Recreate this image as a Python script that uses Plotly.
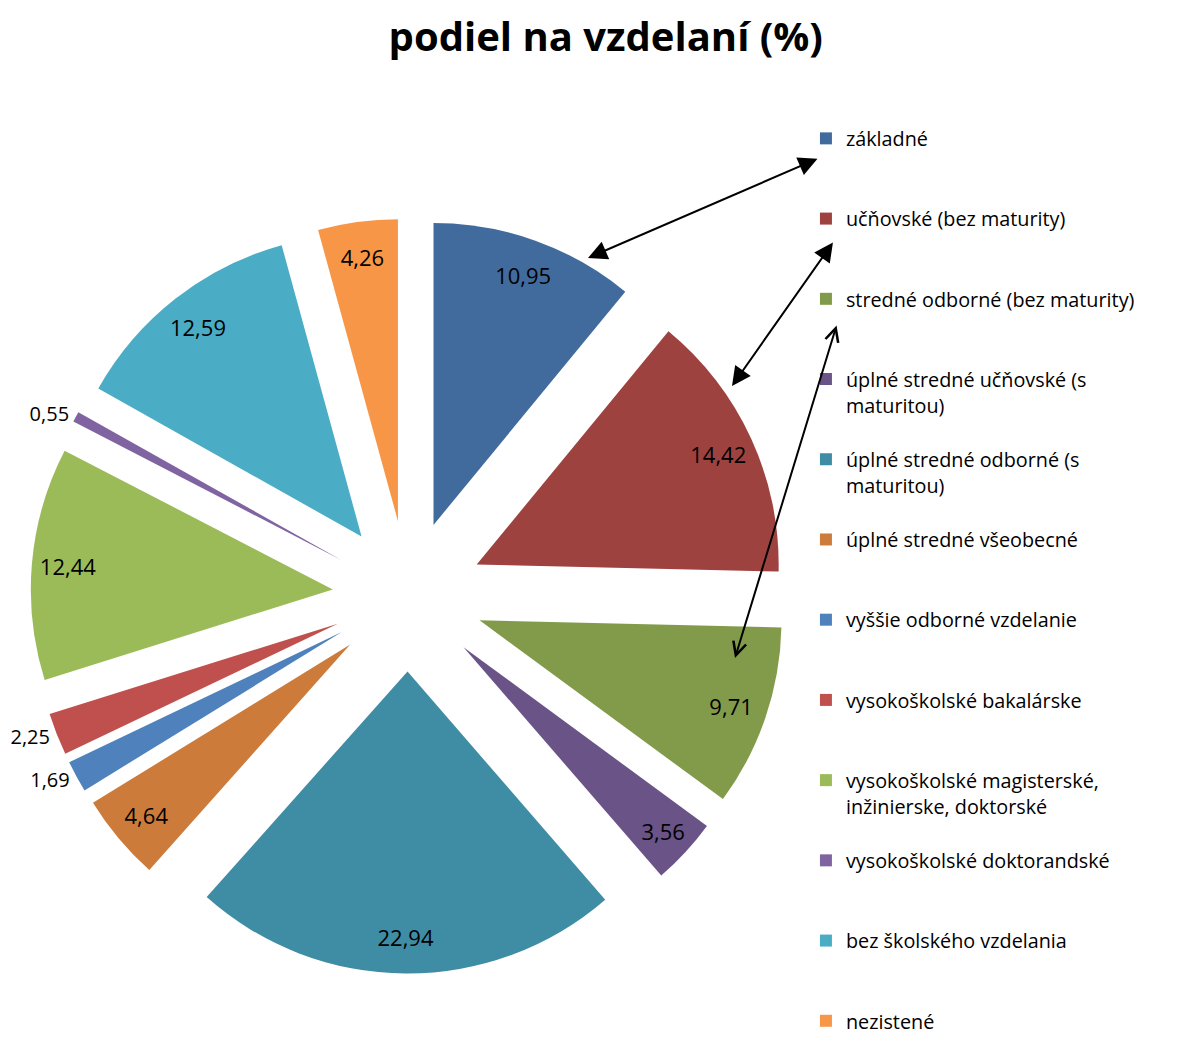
import plotly.graph_objects as go

categories = [
    "základné",
    "učňovské (bez maturity)",
    "stredné odborné (bez maturity)",
    "úplné stredné učňovské (s<br>maturitou)",
    "úplné stredné odborné (s<br>maturitou)",
    "úplné stredné všeobecné",
    "vyššie odborné vzdelanie",
    "vysokoškolské bakalárske",
    "vysokoškolské magisterské,<br>inžinierske, doktorské",
    "vysokoškolské doktorandské",
    "bez školského vzdelania",
    "nezistené",
]
values = [10.95, 14.42, 9.71, 3.56, 22.94, 4.64, 1.69, 2.25, 12.44, 0.55, 12.59, 4.26]
colors = ["#426B9D", "#9E4240", "#819B4A", "#6A5387", "#3E8DA4", "#CC7B3A",
          "#4F81BD", "#C0504D", "#9BBB59", "#8064A2", "#4BACC6", "#F79646"]
text_pos = ["inside", "inside", "inside", "inside", "inside", "inside",
            "outside", "outside", "inside", "outside", "inside", "inside"]

FONT = "Open Sans"
LINES_PER_ITEM = 3
legend_labels = []
for i, lab in enumerate(categories):
    n = lab.count("<br>") + 1
    if i < len(categories) - 1:
        lab = lab + "<br>\u00a0" * (LINES_PER_ITEM - n)
    legend_labels.append(lab)

DOMAIN = dict(x=[0.019, 0.6556], y=[0.0707, 0.7974])
PULL = 0.25

fig = go.Figure()
# coloured slices + legend
fig.add_trace(go.Pie(
    labels=legend_labels,
    values=values,
    sort=False,
    direction="clockwise",
    rotation=0,
    pull=PULL,
    marker=dict(colors=colors, line=dict(width=0)),
    textinfo="none",
    domain=DOMAIN,
    hoverinfo="label+value",
))
# transparent ring of the same slices, only carrying the value labels
fig.add_trace(go.Pie(
    labels=legend_labels,
    values=values,
    sort=False,
    direction="clockwise",
    rotation=0,
    pull=PULL,
    hole=0.76,
    marker=dict(colors=["rgba(0,0,0,0)"] * len(values), line=dict(width=0)),
    texttemplate="%{value:.2f}",
    textinfo="text",
    textposition=text_pos,
    insidetextorientation="horizontal",
    textfont=dict(family=FONT, size=22, color="black"),
    outsidetextfont=dict(family=FONT, size=20, color="black"),
    domain=DOMAIN,
    showlegend=False,
    hoverinfo="skip",
))

W, H = 1186, 1039

def arrow(head, tail, style):
    return dict(
        x=head[0] / W, y=1 - head[1] / H, xref="paper", yref="paper",
        ax=tail[0] - head[0], ay=tail[1] - head[1], axref="pixel", ayref="pixel",
        text="", showarrow=True, arrowside="end+start",
        arrowhead=style, startarrowhead=style,
        arrowsize=1.9 if style == 2 else 1.3, startarrowsize=1.9 if style == 2 else 1.3,
        arrowwidth=2, arrowcolor="black", standoff=0, startstandoff=0,
    )

fig.update_layout(
    width=W, height=H,
    margin=dict(l=0, r=0, t=0, b=0, autoexpand=False),
    paper_bgcolor="white",
    separators=", ",
    title=dict(text="<b>podiel na vzdelaní (%)</b>", x=0.504, xanchor="center",
               y=1 - 29 / H, yanchor="middle", yref="container",
               font=dict(family=FONT, size=40, color="black")),
    showlegend=True,
    legend=dict(x=0.6728, xanchor="left", y=1 - 111 / H, yanchor="top",
                font=dict(family=FONT, size=19.8, color="black"),
                valign="top", bgcolor="rgba(0,0,0,0)", borderwidth=0,
                traceorder="normal"),
    annotations=[
        arrow((580, 250), (811, 150), 2),
        arrow((724, 378), (826, 233), 2),
        arrow((727, 650), (829, 316), 5),
    ],
)

fig.write_html("out.html")
